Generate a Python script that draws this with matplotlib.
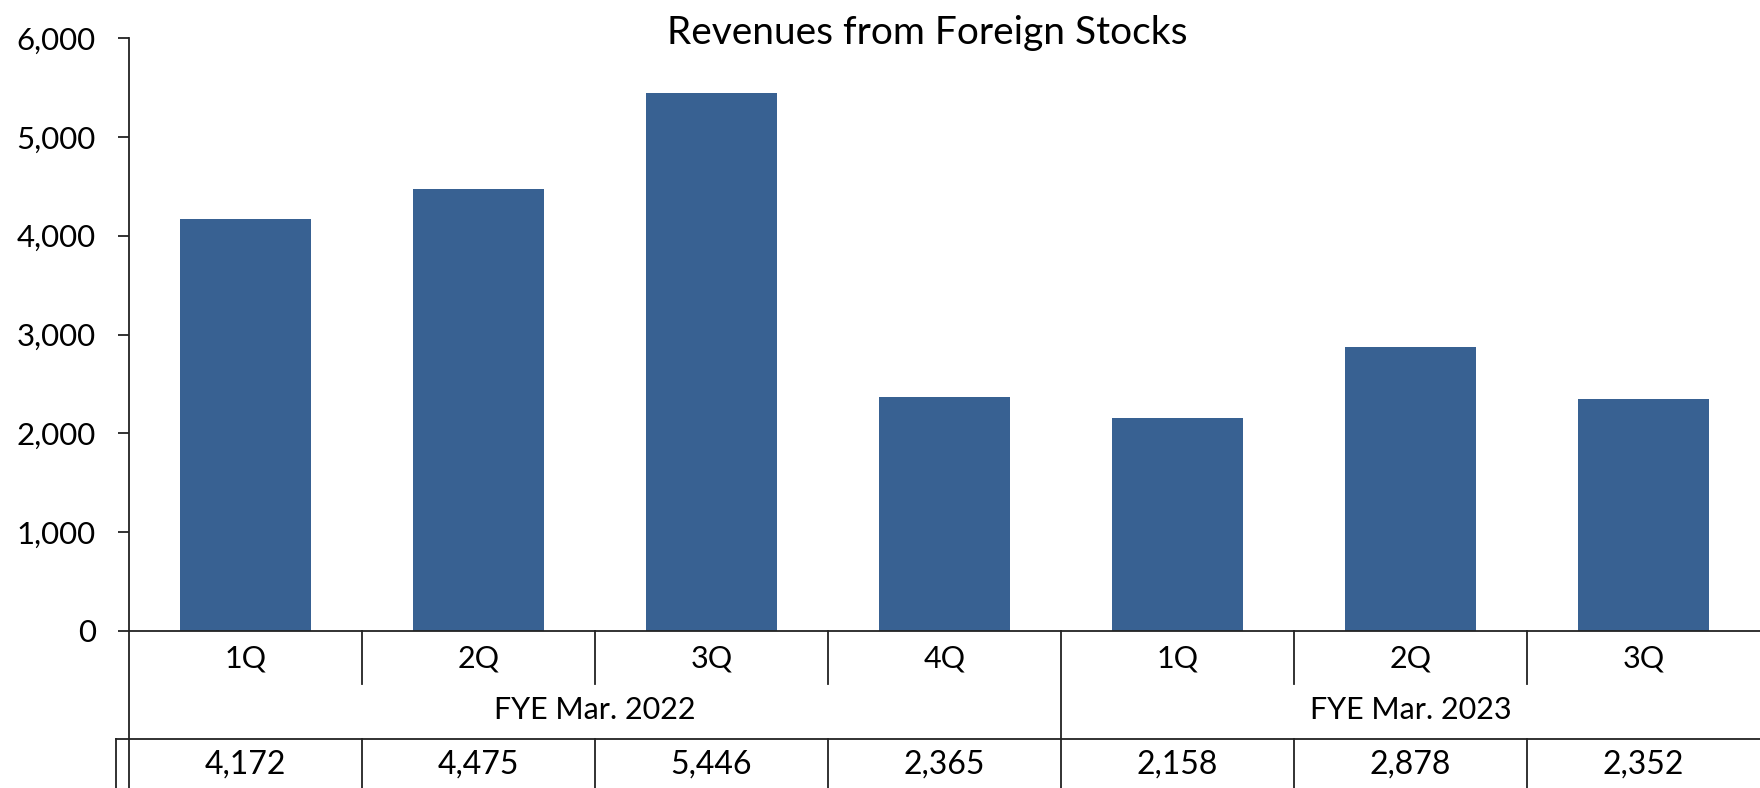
import matplotlib
matplotlib.use("Agg")
import matplotlib.pyplot as plt
from matplotlib.ticker import StrMethodFormatter

plt.rcParams['font.family'] = ['Lato', 'DejaVu Sans']

# datos
quarters = ["1Q", "2Q", "3Q", "4Q", "1Q", "2Q", "3Q"]
fiscal_years = ["FYE Mar. 2022", "FYE Mar. 2023"]
fy_sizes = [4, 3]
revenues = [4172, 4475, 5446, 2365, 2158, 2878, 2352]

BAR_COLOR = "#386192"
LINE_COLOR = "#222222"

W, H = 1760, 788
fig = plt.figure(figsize=(W / 100, H / 100), dpi=100)

# ejes en pixeles: izquierda 129, arriba 38, abajo 631
ax_left, ax_top, ax_bottom = 129, 38, 631
ax = fig.add_axes([ax_left / W, 1 - ax_bottom / H, 1 - ax_left / W, (ax_bottom - ax_top) / H])

x = list(range(len(revenues)))
ax.bar(x, revenues, width=0.56, color=BAR_COLOR, zorder=2)
ax.set_xlim(-0.5, len(revenues) - 0.5)
ax.set_ylim(0, 6000)
ax.set_yticks(range(0, 6001, 1000))
ax.yaxis.set_major_formatter(StrMethodFormatter("{x:,.0f}"))
ax.set_xticks([])

for s in ["top", "right"]:
    ax.spines[s].set_visible(False)
for s in ["left", "bottom"]:
    ax.spines[s].set_color(LINE_COLOR)
    ax.spines[s].set_linewidth(1.3)
ax.tick_params(axis="y", direction="out", length=8, width=1.3, color=LINE_COLOR,
               labelsize=22.5, pad=16)

# tabla de categorias debajo del eje
ax_h = ax_bottom - ax_top
trans = ax.get_xaxis_transform()


def py(ypx):
    # pixel de la figura -> fraccion del eje
    return (ax_bottom - ypx) / ax_h


def vline(xd, y0, y1):
    ax.plot([xd, xd], [py(y0), py(y1)], color=LINE_COLOR, lw=1.3,
            transform=trans, clip_on=False)


n = len(revenues)
left_ext = -0.5 - (129 - 116) / ((W - ax_left) / n)

# fila de trimestres
for i, q in enumerate(quarters):
    ax.text(i, py(659), q, ha="center", va="center", fontsize=22, transform=trans)
for i in range(n - 1):
    if i + 1 == fy_sizes[0]:
        vline(i + 0.5, ax_bottom, H)
    else:
        vline(i + 0.5, ax_bottom, 684)
        vline(i + 0.5, 739, H)

# fila de años fiscales
start = 0
for fy, size in zip(fiscal_years, fy_sizes):
    center = start + (size - 1) / 2
    ax.text(center, py(710), fy, ha="center", va="center", fontsize=22, transform=trans)
    start += size

# fila de valores
ax.plot([left_ext, n - 0.5], [py(739), py(739)], color=LINE_COLOR, lw=1.3,
        transform=trans, clip_on=False)
vline(left_ext, 739, H)
vline(-0.5, ax_bottom, H)
for i, v in enumerate(revenues):
    ax.text(i, py(765), f"{v:,}", ha="center", va="center", fontsize=23, transform=trans)

fig.text(927 / W, 1 - 44 / H, "Revenues from Foreign Stocks", ha="center",
         va="baseline", fontsize=28)

fig.savefig("out.png", dpi=100)
